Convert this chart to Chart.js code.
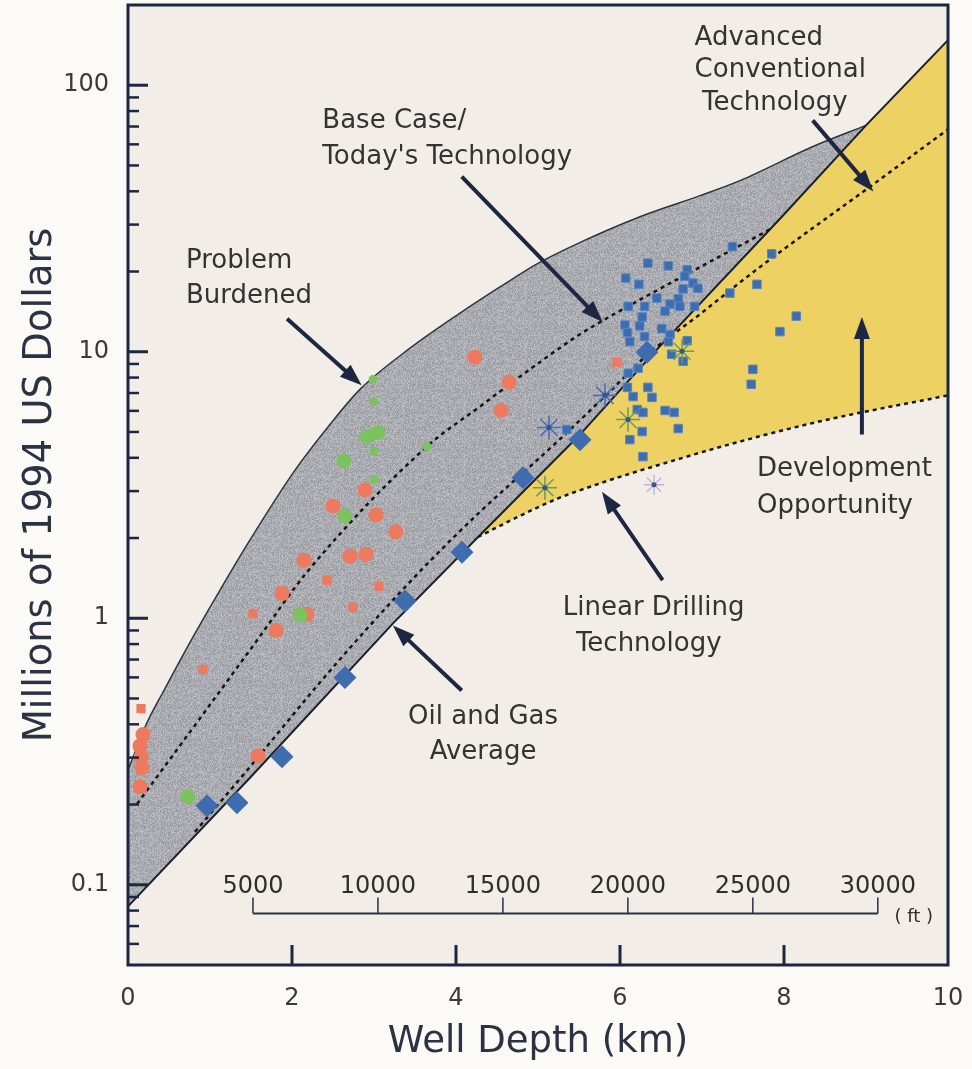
<!DOCTYPE html>
<html>
<head>
<meta charset="utf-8">
<title>Well cost vs depth</title>
<script src="https://cdn.jsdelivr.net/npm/chart.js@4.4.1/dist/chart.umd.min.js"></script>
<style>
  html, body { margin: 0; padding: 0; background: #fbfaf7; }
  canvas { display: block; }
</style>
</head>
<body>
<canvas id="wellChart" width="972" height="1069"></canvas>
<script>
// depth in km, cost in millions of 1994 US dollars
var xTicks = [0, 2, 4, 6, 8, 10];
var yTicks = [0.1, 1, 10, 100];
var yMinorTicks = [0.06, 0.07, 0.08, 0.09, 0.2, 0.3, 0.4, 0.5, 0.6, 0.7, 0.8, 0.9,
  2, 3, 4, 5, 6, 7, 8, 9, 20, 30, 40, 50, 60, 70, 80, 90];
var ftTicks = [5000, 10000, 15000, 20000, 25000, 30000];
var kmPerFt = 0.0003048;
var ftAxisLevel = 0.078;

// upper edge of the band ("problem burdened")
var upperKm   = [0, 0.232, 0.451, 0.756, 1.122, 1.488, 2.024, 2.463, 2.829, 3.439, 4.049, 4.537, 4.988, 5.476, 6.244, 6.976, 7.463, 8.354, 9.0];
var upperCost = [0.27, 0.406, 0.545, 0.812, 1.275, 1.967, 3.548, 5.333, 7.224, 10.31, 13.96, 17.5, 21.36, 25.4, 32.1, 38.52, 43.87, 58.9, 70.7];

// solid lower line
var lineKm   = [0, 1.488, 3.232, 4.293, 5.512, 6.451, 7.951, 9.0, 10];
var lineCost = [0.083, 0.252, 0.957, 2.054, 4.89, 10.2, 31.55, 70.7, 147.7];

// base case / today's technology
var baseKm   = [0.11, 1.037, 1.573, 2.183, 3.646, 4.293, 4.902, 5.476, 5.78, 7.83];
var baseCost = [0.201, 0.491, 0.826, 1.49, 4.41, 6.23, 8.59, 11.44, 13.03, 28.8];

// oil and gas average, continuing as advanced conventional technology
var avgKm   = [0.817, 1.488, 2.341, 3.073, 3.683, 4.293, 5.183, 5.878, 6.329, 6.976, 7.707, 9.085, 10];
var avgCost = [0.158, 0.277, 0.574, 1.035, 1.64, 2.507, 4.445, 7.1, 9.7, 13.84, 20.8, 42.4, 68.3];

// linear drilling technology
var linKm   = [4.268, 4.78, 5.232, 5.707, 6.159, 6.61, 7.195, 8.427, 10];
var linCost = [2.018, 2.422, 2.807, 3.17, 3.517, 3.87, 4.37, 5.47, 6.86];

var redBigKm   = [0.183, 0.146, 0.159, 0.171, 0.146, 1.585, 1.805, 1.878, 2.146, 2.707, 2.902, 2.5, 2.89, 3.024, 3.268, 4.232, 4.646, 4.549, 2.183];
var redBigCost = [0.366, 0.332, 0.302, 0.275, 0.233, 0.305, 0.901, 1.24, 1.65, 1.71, 1.74, 2.64, 3.03, 2.44, 2.11, 9.53, 7.68, 6.02, 1.035];
var redSmallKm   = [0.159, 0.915, 1.524, 2.427, 3.061, 2.744, 5.963];
var redSmallCost = [0.458, 0.643, 1.04, 1.39, 1.32, 1.10, 9.13];
var greenBigKm   = [2.915, 3.049, 2.634, 2.646, 2.098, 0.732];
var greenBigCost = [4.81, 4.98, 3.90, 2.42, 1.03, 0.214];
var greenSmallKm   = [2.988, 3.0, 3.0, 3.0, 3.646];
var greenSmallCost = [7.88, 6.51, 4.22, 3.31, 4.41];
var diamondKm   = [0.963, 1.329, 1.878, 2.646, 3.378, 4.073, 4.817, 5.512, 6.329];
var diamondCost = [0.198, 0.203, 0.302, 0.599, 1.16, 1.77, 3.37, 4.68, 9.96];
var squareKm = [7.37, 7.85, 6.34, 6.59, 6.82, 6.79, 6.07, 6.23, 6.89, 6.77, 6.95, 7.34, 7.67, 6.45, 6.71, 6.61, 6.10, 6.30,
  6.73, 6.91, 6.55, 6.27, 6.06, 6.24, 6.51, 6.09, 6.30, 6.61, 7.95, 8.15, 6.12, 6.59, 6.82, 6.63, 6.77, 7.62,
  7.60, 6.10, 6.22, 6.09, 6.16, 6.34, 6.39, 6.21, 6.28, 6.55, 6.66, 6.27, 6.12, 6.71, 6.28, 5.35];
var squareCost = [24.8, 23.3, 21.5, 21.0, 20.3, 19.2, 18.9, 17.9, 18.1, 17.2, 17.3, 16.6, 17.9, 15.9, 15.8, 15.1, 14.8, 14.8,
  14.8, 14.8, 14.2, 13.5, 12.6, 12.5, 12.2, 11.8, 11.4, 11.6, 11.9, 13.6, 10.9, 10.9, 11.0, 9.79, 9.21, 8.59,
  7.55, 8.30, 8.67, 7.35, 6.79, 7.35, 6.74, 6.07, 5.92, 6.02, 5.92, 5.02, 4.68, 5.15, 4.04, 5.11];
var blueStarKm   = [5.134, 5.817];
var blueStarCost = [5.20, 6.86];
var greenStarKm   = [5.085, 6.098, 6.756];
var greenStarCost = [3.09, 5.57, 10.04];
var paleStarKm   = [6.415];
var paleStarCost = [3.17];

function pts(xs, ys) {
  return xs.map(function (x, i) { return { x: x, y: ys[i] }; });
}

var notes = [
  { text: 'Problem', km: 0.707, cost: 21.8, align: 'left' },
  { text: 'Burdened', km: 0.707, cost: 16.2, align: 'left' },
  { text: 'Base Case/', km: 2.37, cost: 73.5, align: 'left' },
  { text: "Today's Technology", km: 2.37, cost: 53.5, align: 'left' },
  { text: 'Advanced', km: 6.91, cost: 150, align: 'left' },
  { text: 'Conventional', km: 6.91, cost: 114, align: 'left' },
  { text: 'Technology', km: 7.0, cost: 85.5, align: 'left' },
  { text: 'Development', km: 7.67, cost: 3.62, align: 'left' },
  { text: 'Opportunity', km: 7.67, cost: 2.64, align: 'left' },
  { text: 'Linear Drilling', km: 6.41, cost: 1.09, align: 'center' },
  { text: 'Technology', km: 6.35, cost: 0.798, align: 'center' },
  { text: 'Oil and Gas', km: 4.33, cost: 0.424, align: 'center' },
  { text: 'Average', km: 4.33, cost: 0.313, align: 'center' }
];
// [fromKm, fromCost, toKm, toCost]
var arrows = [
  [1.94, 13.3, 2.85, 7.48],
  [4.07, 45.4, 5.79, 12.9],
  [8.35, 73.8, 9.09, 39.9],
  [8.95, 4.89, 8.95, 13.5],
  [6.52, 1.39, 5.78, 2.98],
  [4.07, 0.536, 3.23, 0.94]
];

var navy = '#1d2741';
var textColor = '#333333';

// grainy grey like the printed band (fixed hash, not random)
function speckle() {
  var c = document.createElement('canvas');
  c.width = 61; c.height = 59;
  var g = c.getContext('2d'), img = g.createImageData(61, 59);
  for (var i = 0; i < 61 * 59; i++) {
    var h = Math.imul(i + 17, 2654435761) >>> 0;
    h ^= h >>> 15; h = Math.imul(h, 2246822519) >>> 0; h ^= h >>> 13;
    var d = ((h & 255) - 128) / 128 * 22;
    img.data[i * 4] = 170 + d;
    img.data[i * 4 + 1] = 172 + d;
    img.data[i * 4 + 2] = 177 + d;
    img.data[i * 4 + 3] = 255;
  }
  g.putImageData(img, 0, 0);
  return g.createPattern(c, 'repeat');
}

function drawArrow(ctx, x1, y1, x2, y2) {
  var ang = Math.atan2(y2 - y1, x2 - x1), head = 22, half = 8;
  var bx = x2 - head * Math.cos(ang), by = y2 - head * Math.sin(ang);
  ctx.beginPath();
  ctx.moveTo(x1, y1);
  ctx.lineTo(bx + 2 * Math.cos(ang), by + 2 * Math.sin(ang));
  ctx.stroke();
  ctx.beginPath();
  ctx.moveTo(x2, y2);
  ctx.lineTo(bx + half * Math.sin(ang), by - half * Math.cos(ang));
  ctx.lineTo(bx - half * Math.sin(ang), by + half * Math.cos(ang));
  ctx.closePath();
  ctx.fill();
}

var decor = {
  id: 'decor',
  beforeDraw: function (chart) {
    var ctx = chart.ctx, a = chart.chartArea;
    ctx.save();
    ctx.fillStyle = '#fbfaf7';
    ctx.fillRect(0, 0, chart.width, chart.height);
    ctx.fillStyle = '#f2eee7';
    ctx.fillRect(a.left, a.top, a.right - a.left, a.bottom - a.top);
    ctx.restore();
  },
  afterDatasetsDraw: function (chart) {
    var ctx = chart.ctx, a = chart.chartArea, xs = chart.scales.x, ys = chart.scales.y;
    ctx.save();

    // arrows
    ctx.strokeStyle = navy;
    ctx.fillStyle = navy;
    ctx.lineWidth = 4;
    arrows.forEach(function (r) {
      drawArrow(ctx, xs.getPixelForValue(r[0]), ys.getPixelForValue(r[1]),
        xs.getPixelForValue(r[2]), ys.getPixelForValue(r[3]));
    });

    // labels inside the plot
    ctx.fillStyle = textColor;
    ctx.font = '26px "DejaVu Sans"';
    ctx.textBaseline = 'middle';
    notes.forEach(function (n) {
      ctx.textAlign = n.align;
      ctx.fillText(n.text, xs.getPixelForValue(n.km), ys.getPixelForValue(n.cost));
    });

    // depth in feet
    var fy = ys.getPixelForValue(ftAxisLevel);
    var fx0 = xs.getPixelForValue(ftTicks[0] * kmPerFt);
    var fx1 = xs.getPixelForValue(ftTicks[ftTicks.length - 1] * kmPerFt);
    ctx.strokeStyle = '#2a3045';
    ctx.lineWidth = 2;
    ctx.beginPath();
    ctx.moveTo(fx0, fy);
    ctx.lineTo(fx1, fy);
    ctx.stroke();
    ctx.lineWidth = 1.5;
    ctx.font = '24px "DejaVu Sans"';
    ctx.textAlign = 'center';
    ctx.fillStyle = '#2e2e2e';
    ftTicks.forEach(function (ft) {
      var x = xs.getPixelForValue(ft * kmPerFt);
      ctx.beginPath();
      ctx.moveTo(x, fy);
      ctx.lineTo(x, fy - 16);
      ctx.stroke();
      ctx.fillText(String(ft), x, fy - 27);
    });
    ctx.font = '18px "DejaVu Sans"';
    ctx.fillText('( ft )', fx1 + 36, fy + 4);

    // inward tick marks
    ctx.strokeStyle = navy;
    ctx.lineWidth = 3;
    yTicks.forEach(function (v) {
      var y = ys.getPixelForValue(v);
      ctx.beginPath(); ctx.moveTo(a.left, y); ctx.lineTo(a.left + 20, y); ctx.stroke();
    });
    ctx.lineWidth = 2.5;
    yMinorTicks.forEach(function (v) {
      var y = ys.getPixelForValue(v);
      ctx.beginPath(); ctx.moveTo(a.left, y); ctx.lineTo(a.left + 11, y); ctx.stroke();
    });
    ctx.lineWidth = 3;
    xTicks.slice(1, -1).forEach(function (v) {
      var x = xs.getPixelForValue(v);
      ctx.beginPath(); ctx.moveTo(x, a.bottom); ctx.lineTo(x, a.bottom - 20); ctx.stroke();
    });

    // frame
    ctx.lineWidth = 3;
    ctx.strokeRect(a.left, a.top, a.right - a.left, a.bottom - a.top);
    ctx.restore();
  }
};

Chart.defaults.font.family = 'DejaVu Sans';

function lineSet(data, opts) {
  var d = {
    data: data, pointRadius: 0, pointHoverRadius: 0, fill: false,
    borderColor: '#151515', borderWidth: 2.5, cubicInterpolationMode: 'monotone'
  };
  for (var k in opts) d[k] = opts[k];
  return d;
}
function markSet(data, style, radius, fillColor, opts) {
  var d = {
    data: data, showLine: false, pointStyle: style, pointRadius: radius, pointHoverRadius: radius,
    pointBackgroundColor: fillColor, pointBorderColor: fillColor, pointBorderWidth: 0
  };
  for (var k in opts || {}) d[k] = opts[k];
  return d;
}

function noPad(s) {
  s.paddingTop = 0; s.paddingBottom = 0; s.paddingLeft = 0; s.paddingRight = 0;
}

new Chart(document.getElementById('wellChart'), {
  type: 'line',
  data: {
    datasets: [
      lineSet(pts(upperKm, upperCost), { fill: { target: 1 }, backgroundColor: speckle(), borderColor: '#2f3340', borderWidth: 1.5, order: 20 }),
      lineSet(pts(lineKm, lineCost), { borderColor: '#1b1f2c', borderWidth: 2, cubicInterpolationMode: 'default', tension: 0, order: 18 }),
      lineSet(pts(linKm, linCost), { fill: { target: 1 }, backgroundColor: '#edd163', borderDash: [4, 4], order: 19 }),
      lineSet(pts(baseKm, baseCost), { borderDash: [4, 4], order: 17 }),
      lineSet(pts(avgKm, avgCost), { borderDash: [4, 4], order: 16 }),
      markSet(pts(redBigKm, redBigCost), 'circle', 7.5, '#ee795e', { order: 9 }),
      markSet(pts(redSmallKm, redSmallCost), 'rect', 6.5, '#ee795e', { order: 8 }),
      markSet(pts(greenBigKm, greenBigCost), 'circle', 7.5, '#7cc25e', { order: 7 }),
      markSet(pts(greenSmallKm, greenSmallCost), 'circle', 4.5, '#7cc25e', { order: 6 }),
      markSet(pts(diamondKm, diamondCost), 'rectRot', 11.5, '#3e6cae', { order: 5 }),
      markSet(pts(squareKm, squareCost), 'rect', 6, '#3d6db1', { pointBorderColor: '#5b86c1', pointBorderWidth: 1, order: 4 }),
      markSet(pts(blueStarKm, blueStarCost), 'star', 12, '#4d6fb5', { pointBorderColor: '#4d6fb5', pointBorderWidth: 1.6, order: 3 }),
      markSet(pts(greenStarKm, greenStarCost), 'star', 12, '#6f9c5e', { pointBorderColor: '#6f9c5e', pointBorderWidth: 1.6, order: 2 }),
      markSet(pts(paleStarKm, paleStarCost), 'star', 10, '#c3b3d0', { pointBorderColor: '#c3b3d0', pointBorderWidth: 1.4, order: 2 }),
      markSet(pts(blueStarKm.concat(greenStarKm, paleStarKm), blueStarCost.concat(greenStarCost, paleStarCost)), 'circle', 2.5, '#34548f', { order: 1 })
    ]
  },
  options: {
    responsive: false,
    animation: false,
    events: [],
    layout: { autoPadding: false, padding: { top: 5, right: 24, left: 0, bottom: 0 } },
    plugins: { legend: { display: false }, tooltip: { enabled: false } },
    scales: {
      x: {
        type: 'linear', min: 0, max: 10,
        afterBuildTicks: function (s) { s.ticks = xTicks.map(function (v) { return { value: v }; }); },
        afterFit: function (s) { s.height = 104; noPad(s); },
        grid: { display: false, drawTicks: false },
        border: { display: false },
        ticks: { font: { size: 24 }, color: '#3a3a3a', padding: 19, maxRotation: 0, autoSkip: false },
        title: { display: true, text: 'Well Depth (km)', font: { size: 37 }, color: '#2b3244', padding: { top: 0, bottom: 4 } }
      },
      y: {
        type: 'logarithmic', min: 0.05, max: 200,
        afterBuildTicks: function (s) { s.ticks = yTicks.map(function (v) { return { value: v }; }); },
        afterFit: function (s) { s.width = 128; noPad(s); },
        grid: { display: false, drawTicks: false },
        border: { display: false },
        ticks: { font: { size: 24 }, color: '#3a3a3a', padding: 19, autoSkip: false, callback: function (v) { return String(v); } },
        title: { display: true, text: 'Millions of 1994 US Dollars', font: { size: 38.5 }, color: '#2b3244', padding: { top: 18, bottom: 0 } }
      }
    }
  },
  plugins: [decor]
});
</script>
</body>
</html>
